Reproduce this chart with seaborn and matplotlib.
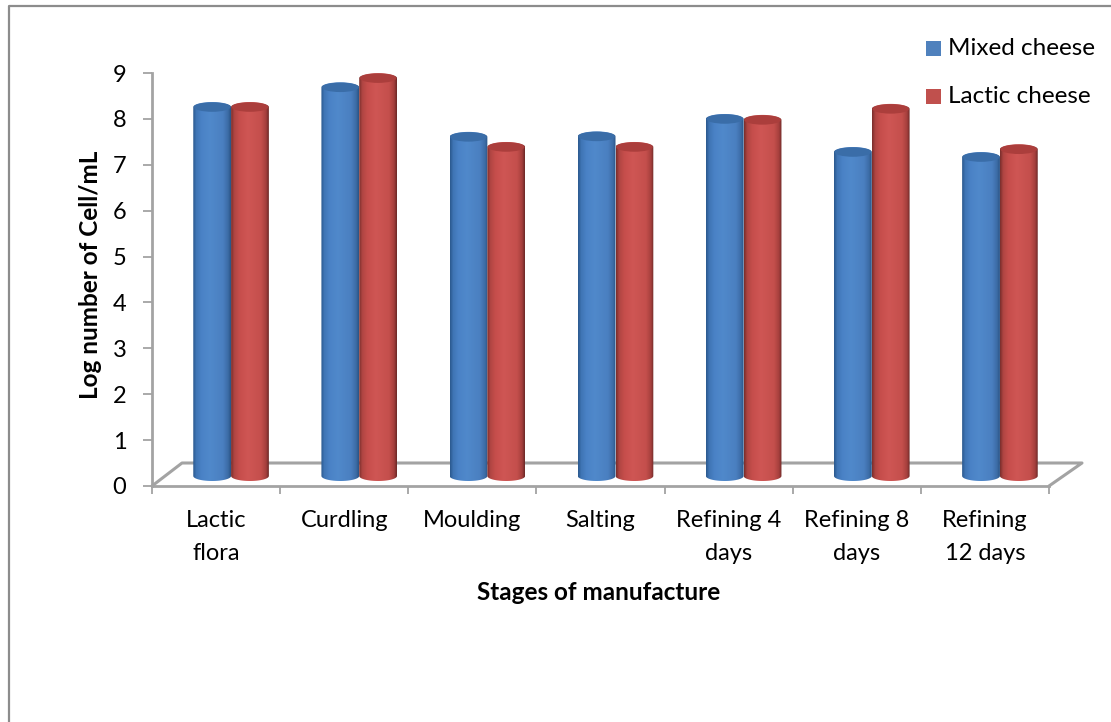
import numpy as np
import pandas as pd
import matplotlib
matplotlib.use('Agg')
import matplotlib.pyplot as plt
from matplotlib.lines import Line2D
from matplotlib.patches import Ellipse, Polygon, Rectangle
from matplotlib.colors import LinearSegmentedColormap
import seaborn as sns

stages = ['Lactic\nflora', 'Curdling', 'Moulding', 'Salting',
          'Refining 4\ndays', 'Refining 8\ndays', 'Refining\n12 days']
mixed = [8.04, 8.47, 7.39, 7.40, 7.78, 7.06, 6.95]
lactic = [8.04, 8.67, 7.17, 7.17, 7.76, 8.00, 7.12]
series = ['Mixed cheese', 'Lactic cheese']
yticks = list(range(10))

blue = '#4f81bd'
red = '#c0504d'
grey = '#a3a3a3'
W, H = 1111, 722

sns.set_theme(style='white')
plt.rcParams['font.family'] = ['Lato', 'DejaVu Sans']

df = pd.DataFrame({'stage': stages * 2,
                   'value': mixed + lactic,
                   'series': [series[0]] * 7 + [series[1]] * 7})

fig = plt.figure(figsize=(W / 100, H / 100), dpi=100)
# only the top and left edge of the frame show in the picture
fig.add_artist(Line2D([8.5 / W, 8.5 / W, 1], [0, 1 - 6 / H, 1 - 6 / H], transform=fig.transFigure,
                      color='#8c8c8c', lw=1.6))

left, right, top, bottom = 152, 1049, 73, 486
ax = fig.add_axes([left / W, 1 - bottom / H, (right - left) / W, (bottom - top) / H])
sns.barplot(data=df, x='stage', y='value', hue='series', palette=[blue, red],
            width=0.59, gap=0, legend=False, saturation=1, ax=ax)

# 3d look: bars stand on the floor, pushed back from the axis plane
px_x = (right - left) / 7
px_y = (bottom - top) / 9
dx, dy = 15 / px_x, 10 / px_y
ry = 5 / px_y

pos = [0, 0.08, 0.22, 0.45, 0.8, 0.93, 1]
cm_blue = LinearSegmentedColormap.from_list('b', list(zip(pos, ['#2c5a90', '#3f75b5', '#4a82c6', '#5089cb',
                                                               '#4a7fc0', '#3c6ca6', '#2b5688'])))
cm_red = LinearSegmentedColormap.from_list('r', list(zip(pos, ['#7c2f2d', '#b04542', '#c64e4c', '#cf5654',
                                                              '#c44f4c', '#a53f3d', '#6f2a28'])))
shade = np.linspace(0, 1, 64).reshape(1, -1)

bars = [p for p in ax.patches if p.get_height() > 0]
for i, p in enumerate(bars):
    is_blue = i < 7
    x0 = p.get_x() + dx
    w = p.get_width()
    h = p.get_height()
    p.set_visible(False)
    t = np.linspace(0, np.pi, 30)
    cx = x0 + w / 2
    lower = np.column_stack([cx - np.cos(t) * w / 2, dy - np.sin(t) * ry])
    upper = np.column_stack([cx + np.cos(t) * w / 2, dy + h + np.sin(t) * ry])
    outline = Polygon(np.vstack([lower, upper]), closed=True, transform=ax.transData,
                      fc='none', ec='none')
    ax.add_patch(outline)
    z = 3 + (0 if is_blue else 0.5)
    im = ax.imshow(shade, cmap=cm_blue if is_blue else cm_red, aspect='auto',
                   extent=(x0, x0 + w, dy - ry, dy + h + ry), zorder=z)
    im.set_clip_path(outline)
    ax.add_patch(Ellipse((cx, dy + h), w * 0.97, 2 * ry * 0.95, fc='#3a6da8' if is_blue else '#ab3e3c',
                         ec='none', zorder=z + 0.1))
ax.set_xlim(-0.5, 6.5)
ax.set_ylim(0, 9)

# floor of the 3d box
ax.plot([0, 30 / (right - left), 1, (1082 - left) / (right - left), 1],
        [0, 23 / (bottom - top), 23 / (bottom - top), 23 / (bottom - top), 0],
        color=grey, lw=2.2, transform=ax.transAxes, clip_on=False, zorder=2)

sns.despine(ax=ax)
for s in ['left', 'bottom']:
    ax.spines[s].set_color(grey)
    ax.spines[s].set_linewidth(2)
ax.set_yticks(yticks)
ax.set_xticks(np.arange(-0.5, 7), labels=[''] * 8)
ax.tick_params(axis='y', length=6.5, width=1.3, color=grey, labelsize=17, labelcolor='black', left=True, pad=12)
ax.tick_params(axis='x', length=5.5, width=1.3, color=grey, bottom=True)
for i, s in enumerate(stages):
    ax.text(i, -0.52, s, ha='center', va='top', fontsize=17, linespacing=1.72, color='black')
ax.set_xlabel('')
ax.set_ylabel('')
fig.text(90 / W, 1 - 275 / H, 'Log number of Cell/mL', rotation=90, ha='center', va='center',
         fontsize=17.5, fontweight='bold', color='black')
fig.text(599 / W, 1 - 592 / H, 'Stages of manufacture', ha='center', va='center',
         fontsize=17.5, fontweight='bold', color='black')

# legend
for name, col, yc in zip(series, [blue, red], [48.5, 96.5]):
    fig.add_artist(Rectangle((926 / W, 1 - (yc + 7.5) / H), 15 / W, 15 / H, transform=fig.transFigure,
                             fc=col, ec='none'))
    fig.text(948 / W, 1 - yc / H, name, ha='left', va='center', fontsize=17.5, color='black')

fig.savefig('out.png', dpi=100)
